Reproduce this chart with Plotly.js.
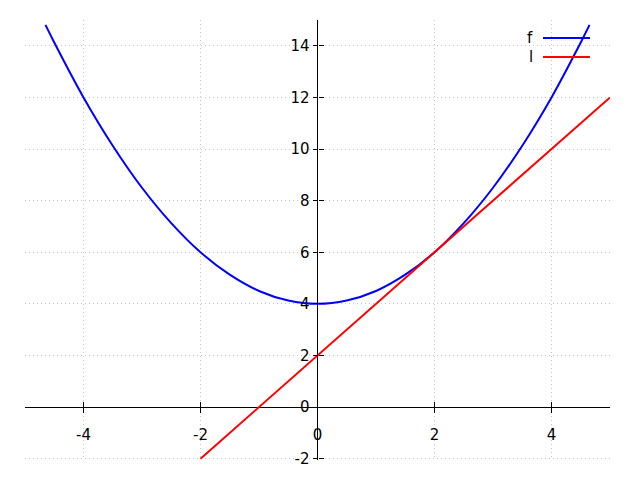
<!DOCTYPE html>
<html>
<head>
<meta charset="utf-8">
<script src="https://cdn.plot.ly/plotly-3.0.1.min.js"></script>
<style>html,body{margin:0;padding:0;background:#fff;}</style>
</head>
<body>
<div id="chart" style="width:640px;height:480px;"></div>
<script>
// Series f (parabola)
var fX = [-4.65, -4.5, -4.0, -3.5, -3.0, -2.5, -2.0, -1.5, -1.0, -0.5, 0.0, 0.5, 1.0, 1.5, 2.0, 2.5, 3.0, 3.5, 4.0, 4.5, 4.65];
var fY = [14.81, 14.13, 12.0, 10.13, 8.5, 7.13, 6.0, 5.13, 4.5, 4.13, 4.0, 4.13, 4.5, 5.13, 6.0, 7.13, 8.5, 10.13, 12.0, 14.13, 14.81];
// Series l (tangent line)
var lX = [-2, 5];
var lY = [-2, 12];
var seriesNames = ["f", "l"];
var seriesColors = ["#0000ff", "#ff0000"];
var xTicks = [-4, -2, 0, 2, 4];
var yTicks = [-2, 0, 2, 4, 6, 8, 10, 12, 14];

var xRange = [-5, 5];
var yRange = [-2.05, 15];
var xPos = (0 - yRange[0]) / (yRange[1] - yRange[0]);
var yPos = (0 - xRange[0]) / (xRange[1] - xRange[0]);

var font = {family: "DejaVu Sans", size: 15, color: "#000"};

var traces = [
  {x: fX, y: fY, type: "scatter", mode: "lines", name: seriesNames[0],
   line: {color: seriesColors[0], width: 2, shape: "spline"}, xaxis: "x", yaxis: "y", showlegend: false},
  {x: lX, y: lY, type: "scatter", mode: "lines", name: seriesNames[1],
   line: {color: seriesColors[1], width: 2}, xaxis: "x2", yaxis: "y2", showlegend: false}
];

var legX0 = 0.8855, legX1 = 0.9658, legText = 0.872;
var legY = [0.959, 0.916];
var shapes = [], annotations = [];
for (var i = 0; i < seriesNames.length; i++) {
  shapes.push({type: "line", xref: "paper", yref: "paper", x0: legX0, x1: legX1, y0: legY[i], y1: legY[i],
               line: {color: seriesColors[i], width: 2}});
  annotations.push({xref: "paper", yref: "paper", x: legText, y: legY[i], text: seriesNames[i],
                    showarrow: false, xanchor: "right", yanchor: "middle", font: font});
}

var commonX = {range: xRange, tickvals: xTicks, ticktext: xTicks.map(String), anchor: "free", position: xPos};
var commonY = {range: yRange, tickvals: yTicks, ticktext: yTicks.map(String), anchor: "free", position: yPos};

var gridStyle = {showgrid: true, gridcolor: "#c4c4c4", griddash: "1px,3px", gridwidth: 1};

var layout = {
  width: 640, height: 480,
  margin: {l: 25, r: 30, t: 20, b: 20, pad: 0},
  paper_bgcolor: "#fff", plot_bgcolor: "#fff",
  showlegend: false,
  font: font,
  xaxis: Object.assign({}, commonX, gridStyle, {
    zeroline: true, zerolinecolor: "#000", zerolinewidth: 1,
    showline: false, ticks: "outside", ticklen: 5, tickwidth: 1, tickcolor: "#000",
    tickfont: font, ticklabelstandoff: 9
  }),
  yaxis: Object.assign({}, commonY, gridStyle, {
    zeroline: true, zerolinecolor: "#000", zerolinewidth: 1,
    showline: false, ticks: "outside", ticklen: 5, tickwidth: 1, tickcolor: "#000",
    tickfont: font, ticklabelstandoff: 0
  }),
  xaxis2: Object.assign({}, commonX, {
    overlaying: "x", matches: "x", showgrid: false, zeroline: false, showline: false,
    ticks: "inside", ticklen: 5, tickwidth: 1, tickcolor: "#000", showticklabels: false
  }),
  yaxis2: Object.assign({}, commonY, {
    overlaying: "y", matches: "y", showgrid: false, zeroline: false, showline: false,
    ticks: "inside", ticklen: 5, tickwidth: 1, tickcolor: "#000", showticklabels: false
  }),
  shapes: shapes,
  annotations: annotations
};

Plotly.newPlot("chart", traces, layout, {displayModeBar: false, staticPlot: true});
</script>
</body>
</html>
